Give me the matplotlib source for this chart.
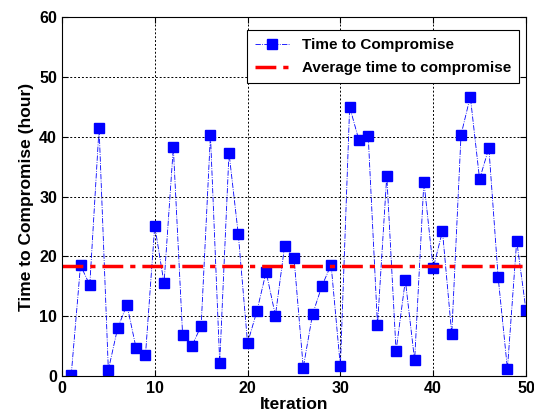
import matplotlib
matplotlib.use("Agg")
import matplotlib.pyplot as plt
import numpy as np

plt.rcParams['font.family'] = ['Liberation Sans', 'DejaVu Sans']
plt.rcParams['font.weight'] = 'bold'

iterations = np.arange(1, 51)
time_to_compromise = [
    0.2, 18.5, 15.2, 41.5, 1.0, 8.0, 11.9, 4.6, 3.5, 25.1,
    15.5, 38.2, 6.9, 5.0, 8.4, 40.3, 2.2, 37.3, 23.7, 5.5,
    10.8, 17.4, 10.1, 21.8, 19.8, 1.4, 10.3, 15.0, 18.6, 1.6,
    45.0, 39.4, 40.1, 8.5, 33.5, 4.2, 16.0, 2.6, 32.5, 18.0,
    24.2, 7.0, 40.3, 46.7, 32.9, 38.1, 16.5, 1.2, 22.6, 11.0,
]
average_time = np.mean(time_to_compromise)

fig = plt.figure(figsize=(5.34, 4.19), dpi=100)
ax = fig.add_axes([0.116, 0.1026, 0.869, 0.8568])

ax.plot(iterations, time_to_compromise, color='blue', linestyle='-.', linewidth=0.6,
        marker='s', markersize=6.5, markerfacecolor='blue', markeredgecolor='blue',
        label='Time to Compromise')
ax.plot([0, 50], [average_time, average_time], color='red', linestyle=(0, (6, 2, 1.5, 2)),
        linewidth=2.5, label='Average time to compromise')

ax.set_xlim(0, 50)
ax.set_ylim(0, 60)
ax.set_xticks([0, 10, 20, 30, 40, 50])
ax.set_yticks([0, 10, 20, 30, 40, 50, 60])
ax.grid(True, color='black', linestyle=(0, (2, 2)), linewidth=0.7)
ax.tick_params(direction='in', labelsize=11.5, length=4, top=True, right=True)
for lab in ax.get_xticklabels() + ax.get_yticklabels():
    lab.set_fontweight('bold')

ax.set_xlabel('Iteration', fontsize=12.5, fontweight='bold', labelpad=1)
ax.set_ylabel('Time to Compromise (hour)', fontsize=12.5, fontweight='bold', labelpad=4)

leg = ax.legend(loc='upper right', bbox_to_anchor=(0.985, 0.963), fontsize=11,
                fancybox=False, edgecolor='black', framealpha=1, borderaxespad=0,
                handlelength=2.3, numpoints=1, borderpad=0.5, labelspacing=0.6)
leg.get_frame().set_linewidth(0.8)

fig.savefig('out.png', dpi=100)
